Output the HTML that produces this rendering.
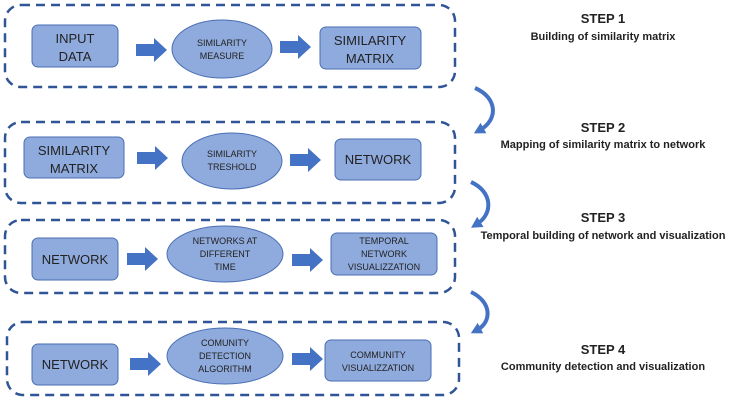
<!DOCTYPE html>
<html><head><style>
body{margin:0;background:#fff;width:749px;height:400px;overflow:hidden;font-family:"Liberation Sans",sans-serif}
</style></head><body>
<svg width="749" height="400" viewBox="0 0 749 400" xmlns="http://www.w3.org/2000/svg" font-family="Liberation Sans, sans-serif">
<defs>
<g id="ar"><polygon points="0,-6 18,-6 18,-12 31,0 18,12 18,6 0,6" fill="#4472c4"/></g>
<marker id="mh" markerWidth="12" markerHeight="12" refX="4" refY="6" orient="auto" markerUnits="userSpaceOnUse"><polygon points="0,0 11,6 0,12" fill="#4472c4"/></marker>
</defs>
<g fill="none" stroke="#2f5597" stroke-width="2.5" stroke-dasharray="9,6">
<rect x="5" y="5" width="450" height="82" rx="16"/>
<rect x="5" y="122" width="450" height="81" rx="16"/>
<rect x="5" y="220" width="450" height="73" rx="16"/>
<rect x="7" y="322" width="452" height="73" rx="16"/>
</g>
<g fill="#8faadc" stroke="#4a6fb5" stroke-width="1">
<rect x="32" y="25" width="86" height="42" rx="6"/>
<ellipse cx="222" cy="49" rx="50" ry="29"/>
<rect x="320" y="27" width="101" height="42" rx="6"/>
<rect x="24" y="137" width="100" height="41" rx="6"/>
<ellipse cx="232" cy="161" rx="50" ry="28"/>
<rect x="335" y="139" width="86" height="41" rx="6"/>
<rect x="32" y="238" width="86" height="42" rx="6"/>
<ellipse cx="225" cy="254" rx="58" ry="28"/>
<rect x="331" y="233" width="106" height="42" rx="6"/>
<rect x="32" y="344" width="86" height="41" rx="6"/>
<ellipse cx="225" cy="356" rx="58" ry="28"/>
<rect x="325" y="340" width="106" height="41" rx="6"/>
</g>
<use href="#ar" x="136" y="50"/><use href="#ar" x="280" y="47"/>
<use href="#ar" x="137" y="158"/><use href="#ar" x="290" y="160"/>
<use href="#ar" x="127" y="259"/><use href="#ar" x="292" y="260"/>
<use href="#ar" x="130" y="364"/><use href="#ar" x="292" y="359"/>
<g fill="#222" text-anchor="middle">
<g font-size="13"><text x="75" y="43">INPUT</text><text x="75" y="61">DATA</text>
<text x="370" y="45">SIMILARITY</text><text x="370" y="63">MATRIX</text>
<text x="74" y="155">SIMILARITY</text><text x="74" y="173">MATRIX</text>
<text x="378" y="164">NETWORK</text>
<text x="75" y="264">NETWORK</text><text x="75" y="369">NETWORK</text></g>
<g font-size="9"><text x="222" y="46">SIMILARITY</text><text x="222" y="59">MEASURE</text>
<text x="232" y="157">SIMILARITY</text><text x="232" y="170">TRESHOLD</text>
<text x="225" y="244">NETWORKS AT</text><text x="225" y="257">DIFFERENT</text><text x="225" y="270">TIME</text>
<text x="384" y="244">TEMPORAL</text><text x="384" y="257">NETWORK</text><text x="384" y="270">VISUALIZZATION</text>
<text x="225" y="346">COMUNITY</text><text x="225" y="359">DETECTION</text><text x="225" y="372">ALGORITHM</text>
<text x="378" y="358">COMMUNITY</text><text x="378" y="371">VISUALIZZATION</text></g>
<g font-weight="bold"><text x="603" y="23" font-size="13">STEP 1</text><text x="603" y="40" font-size="11">Building of similarity matrix</text>
<text x="603" y="132" font-size="13">STEP 2</text><text x="603" y="148" font-size="11">Mapping of similarity matrix to network</text>
<text x="603" y="222" font-size="13">STEP 3</text><text x="603" y="239" font-size="11">Temporal building of network and visualization</text>
<text x="603" y="354" font-size="13">STEP 4</text><text x="603" y="370" font-size="11">Community detection and visualization</text></g>
</g>
<g fill="none" stroke="#4472c4" stroke-width="4" marker-end="url(#mh)">
<path d="M475,88 C498,98 498,120 480,130"/>
<path d="M471,182 C493,192 493,214 477,224"/>
<path d="M471,292 C492,302 492,322 477,330"/>
</g>
</svg>
</body></html>
